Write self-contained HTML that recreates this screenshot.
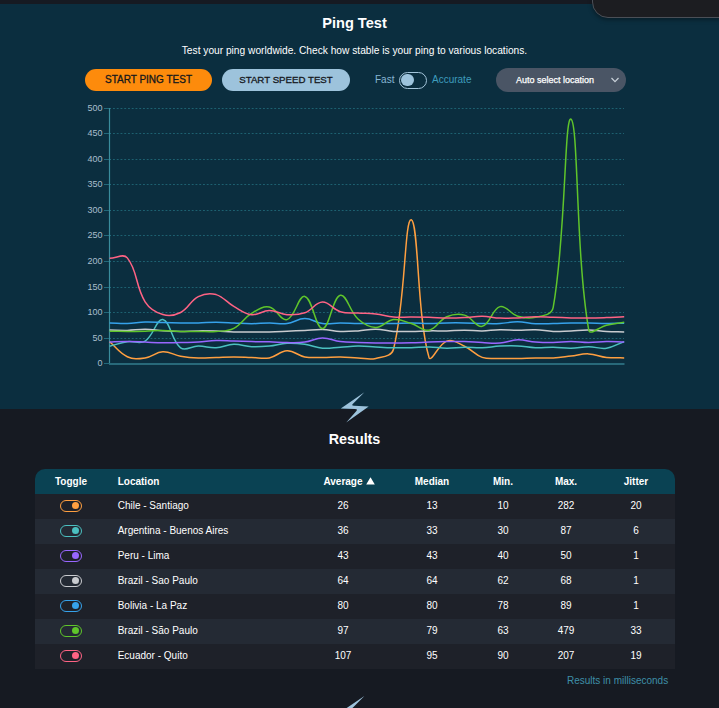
<!DOCTYPE html>
<html><head><meta charset="utf-8">
<style>
*{margin:0;padding:0;box-sizing:border-box}
html,body{width:719px;height:708px;overflow:hidden;background:#161a22;font-family:"Liberation Sans",sans-serif;color:#fff}
.abs{position:absolute}
#top{position:absolute;left:0;top:0;width:719px;height:4px;background:#161a22}
#hero{position:absolute;left:0;top:4px;width:719px;height:405px;background:#0b2e3f}
#corner{position:absolute;left:592px;top:-19px;width:160px;height:37px;background:#1c1d21;border:1px solid #4a4f57;border-radius:16px;box-shadow:0 2px 4px rgba(0,0,0,0.35)}
.t{position:absolute;white-space:nowrap}
.btn{position:absolute;top:69px;height:22px;border-radius:11px;color:#15181c;font-size:10px;-webkit-text-stroke:0.3px #15181c;text-align:center;line-height:22px}
#tbl{position:absolute;left:35px;top:469px;width:640px}
.hdr{height:25px;background:#0a4253;border-radius:10px 10px 0 0;position:relative}
.row{height:25px;position:relative}
.r0{background:#1e2129}.r1{background:#242a34}
.c{position:absolute;top:-1px;line-height:25px;font-size:10px;white-space:nowrap}
.hdr .c{font-weight:bold;top:-0.3px}
.cc{transform:translateX(-50%)}
.tg{position:absolute;left:24.5px;top:6px;width:22px;height:12px;border-radius:6px;border:1.5px solid}
.tg i{position:absolute;right:2px;top:1.2px;width:7px;height:7px;border-radius:50%}
</style></head><body>
<div id="top"></div>
<div id="hero">
</div>
<div id="corner"></div>
<div class="t" style="left:0;width:709px;top:15.3px;text-align:center;font-size:14.6px;font-weight:bold">Ping Test</div>
<div class="t" style="left:0;width:709px;top:44.7px;text-align:center;font-size:10.2px">Test your ping worldwide. Check how stable is your ping to various locations.</div>
<div class="btn" style="left:85px;width:127px;background:#fd8b0c">START PING TEST</div>
<div class="btn" style="left:222px;width:128px;background:#9dc3dc;font-size:9.7px">START SPEED TEST</div>
<div class="t" style="left:375px;top:74px;font-size:10px;color:#86b6d4">Fast</div>
<div class="abs" style="left:399px;top:72px;width:28px;height:17px;border:1.5px solid #a3c4da;border-radius:9px"><div class="abs" style="left:1px;top:0.7px;width:12.6px;height:12.6px;border-radius:50%;background:#9dc3dc"></div></div>
<div class="t" style="left:432px;top:74px;font-size:10px;color:#3e9cbd">Accurate</div>
<div class="abs" style="left:496px;top:68px;width:130px;height:24px;border-radius:12px;background:#4a5565"></div>
<div class="t" style="left:516px;top:75px;font-size:9px;-webkit-text-stroke:0.25px #fff;color:#fff">Auto select location</div>
<svg class="abs" style="left:609px;top:75px" width="12" height="10" viewBox="0 0 12 10"><path d="M2.5 3 L6 6.7 L9.5 3" fill="none" stroke="#c9d1d9" stroke-width="1.2"/></svg>
<svg width="719" height="420" viewBox="0 0 719 420" style="position:absolute;left:0;top:0">
<line x1="113" y1="338.5" x2="624" y2="338.5" stroke="#1d6070" stroke-width="1" stroke-dasharray="1.9 1.85"/>
<line x1="113" y1="312.5" x2="624" y2="312.5" stroke="#1d6070" stroke-width="1" stroke-dasharray="1.9 1.85"/>
<line x1="113" y1="287.5" x2="624" y2="287.5" stroke="#1d6070" stroke-width="1" stroke-dasharray="1.9 1.85"/>
<line x1="113" y1="261.5" x2="624" y2="261.5" stroke="#1d6070" stroke-width="1" stroke-dasharray="1.9 1.85"/>
<line x1="113" y1="235.5" x2="624" y2="235.5" stroke="#1d6070" stroke-width="1" stroke-dasharray="1.9 1.85"/>
<line x1="113" y1="210.5" x2="624" y2="210.5" stroke="#1d6070" stroke-width="1" stroke-dasharray="1.9 1.85"/>
<line x1="113" y1="184.5" x2="624" y2="184.5" stroke="#1d6070" stroke-width="1" stroke-dasharray="1.9 1.85"/>
<line x1="113" y1="159.5" x2="624" y2="159.5" stroke="#1d6070" stroke-width="1" stroke-dasharray="1.9 1.85"/>
<line x1="113" y1="133.5" x2="624" y2="133.5" stroke="#1d6070" stroke-width="1" stroke-dasharray="1.9 1.85"/>
<line x1="113" y1="108.5" x2="624" y2="108.5" stroke="#1d6070" stroke-width="1" stroke-dasharray="1.9 1.85"/>
<line x1="104" y1="363.5" x2="111" y2="363.5" stroke="#22687a" stroke-width="1"/>
<text x="102.5" y="365.7" text-anchor="end" font-size="9" fill="#a9bfcc">0</text>
<line x1="104" y1="338.5" x2="111" y2="338.5" stroke="#22687a" stroke-width="1"/>
<text x="102.5" y="340.7" text-anchor="end" font-size="9" fill="#a9bfcc">50</text>
<line x1="104" y1="312.5" x2="111" y2="312.5" stroke="#22687a" stroke-width="1"/>
<text x="102.5" y="314.7" text-anchor="end" font-size="9" fill="#a9bfcc">100</text>
<line x1="104" y1="287.5" x2="111" y2="287.5" stroke="#22687a" stroke-width="1"/>
<text x="102.5" y="289.7" text-anchor="end" font-size="9" fill="#a9bfcc">150</text>
<line x1="104" y1="261.5" x2="111" y2="261.5" stroke="#22687a" stroke-width="1"/>
<text x="102.5" y="263.7" text-anchor="end" font-size="9" fill="#a9bfcc">200</text>
<line x1="104" y1="235.5" x2="111" y2="235.5" stroke="#22687a" stroke-width="1"/>
<text x="102.5" y="237.7" text-anchor="end" font-size="9" fill="#a9bfcc">250</text>
<line x1="104" y1="210.5" x2="111" y2="210.5" stroke="#22687a" stroke-width="1"/>
<text x="102.5" y="212.7" text-anchor="end" font-size="9" fill="#a9bfcc">300</text>
<line x1="104" y1="184.5" x2="111" y2="184.5" stroke="#22687a" stroke-width="1"/>
<text x="102.5" y="186.7" text-anchor="end" font-size="9" fill="#a9bfcc">350</text>
<line x1="104" y1="159.5" x2="111" y2="159.5" stroke="#22687a" stroke-width="1"/>
<text x="102.5" y="161.7" text-anchor="end" font-size="9" fill="#a9bfcc">400</text>
<line x1="104" y1="133.5" x2="111" y2="133.5" stroke="#22687a" stroke-width="1"/>
<text x="102.5" y="135.7" text-anchor="end" font-size="9" fill="#a9bfcc">450</text>
<line x1="104" y1="108.5" x2="111" y2="108.5" stroke="#22687a" stroke-width="1"/>
<text x="102.5" y="110.7" text-anchor="end" font-size="9" fill="#a9bfcc">500</text>
<line x1="109.5" y1="108" x2="109.5" y2="364" stroke="#3a8c9c" stroke-width="1.2"/>
<line x1="109" y1="364" x2="624.5" y2="364" stroke="#28697a" stroke-width="1.8"/>
<path d="M109.6 341.8 C116.7 347.8 119.3 353.1 127.3 356.7 C133.5 359.5 138.2 358.9 145.1 357.9 C152.4 356.9 155.6 352.1 162.8 351.8 C169.8 351.4 173.4 355.0 180.6 356.2 C187.6 357.4 191.2 357.7 198.3 357.9 C205.4 358.1 209.0 357.6 216.1 357.4 C223.2 357.2 226.7 356.9 233.8 356.9 C240.9 356.9 244.5 357.2 251.6 357.4 C258.7 357.6 262.5 359.2 269.3 357.9 C276.7 356.5 279.9 351.0 287.0 350.8 C294.1 350.5 297.5 355.5 304.8 356.9 C311.7 358.2 315.4 357.4 322.5 357.4 C329.6 357.4 333.2 356.8 340.3 356.9 C347.4 357.0 350.9 357.6 358.0 357.9 C365.1 358.2 369.1 360.0 375.8 358.4 C383.3 356.6 391.6 356.6 393.5 349.2 C405.8 301.1 404.4 218.1 411.3 219.7 C418.6 221.4 416.9 316.0 429.0 357.4 C431.1 363.5 438.7 343.6 446.8 341.1 C452.9 339.1 457.9 343.1 464.5 346.2 C472.0 349.6 474.6 354.7 482.2 357.4 C488.7 359.6 492.9 358.2 500.0 358.4 C507.1 358.6 510.6 358.5 517.7 358.4 C524.8 358.3 528.4 358.0 535.5 357.9 C542.6 357.8 546.1 358.3 553.2 357.9 C560.3 357.5 563.9 356.8 571.0 356.0 C578.1 355.2 581.7 353.6 588.7 353.9 C595.9 354.2 599.3 356.6 606.5 357.4 C613.5 358.2 617.1 357.7 624.2 357.9" fill="none" stroke="#ff9f40" stroke-width="1.5" stroke-linejoin="round"/>
<path d="M109.6 346.2 C116.7 344.4 120.1 342.8 127.3 341.7 C134.3 340.7 139.6 344.5 145.1 341.1 C153.8 335.7 156.4 318.4 162.8 319.6 C170.6 321.1 171.3 341.0 180.6 347.8 C185.5 351.5 191.2 346.1 198.3 346.1 C205.4 346.0 209.0 348.1 216.1 347.7 C223.2 347.4 226.7 344.5 233.8 344.3 C240.9 344.1 244.4 346.3 251.6 346.7 C258.6 347.0 262.2 346.7 269.3 346.1 C276.4 345.4 279.9 343.6 287.0 343.3 C294.1 342.9 297.8 343.3 304.8 344.3 C312.0 345.3 315.4 347.6 322.5 348.2 C329.6 348.8 333.2 347.6 340.3 347.2 C347.4 346.8 350.9 346.1 358.0 346.1 C365.1 346.0 368.7 346.6 375.8 346.9 C382.9 347.3 386.4 347.6 393.5 347.7 C400.6 347.9 404.2 347.9 411.3 347.7 C418.4 347.5 421.9 346.8 429.0 346.9 C436.1 347.0 439.7 348.1 446.8 348.2 C453.8 348.3 457.4 347.3 464.5 347.2 C471.6 347.1 475.2 348.0 482.2 347.7 C489.4 347.5 492.9 346.4 500.0 346.1 C507.1 345.7 510.7 345.5 517.7 345.9 C524.8 346.2 528.4 347.5 535.5 347.7 C542.6 348.0 546.1 347.1 553.2 347.2 C560.3 347.3 563.9 348.3 571.0 348.2 C578.1 348.1 581.6 346.7 588.7 346.7 C595.8 346.7 599.6 349.2 606.5 348.2 C613.8 347.1 617.1 344.2 624.2 341.6" fill="none" stroke="#4bc0c0" stroke-width="1.5" stroke-linejoin="round"/>
<path d="M109.6 342.1 C116.7 341.8 120.2 341.5 127.3 341.5 C134.4 341.5 138.0 341.8 145.1 342.1 C152.2 342.4 155.7 342.8 162.8 342.8 C169.9 342.9 173.5 342.6 180.6 342.5 C187.7 342.3 191.2 342.5 198.3 342.1 C205.4 341.7 209.0 340.8 216.1 340.6 C223.2 340.3 226.7 340.9 233.8 341.1 C240.9 341.3 244.5 341.4 251.6 341.6 C258.7 341.7 262.2 341.6 269.3 341.8 C276.4 342.0 279.9 342.5 287.0 342.6 C294.1 342.7 297.8 343.0 304.8 342.1 C312.0 341.2 315.4 338.1 322.5 338.0 C329.6 337.9 333.1 340.7 340.3 341.6 C347.3 342.4 350.9 342.2 358.0 342.4 C365.1 342.7 368.7 342.8 375.8 342.9 C382.9 343.0 386.4 343.0 393.5 342.9 C400.6 342.9 404.2 343.0 411.3 342.8 C418.4 342.7 421.9 342.3 429.0 342.1 C436.1 341.8 439.7 341.7 446.8 341.6 C453.8 341.5 457.4 341.4 464.5 341.6 C471.6 341.8 475.1 342.3 482.2 342.6 C489.3 342.9 492.9 343.6 500.0 343.1 C507.1 342.5 510.6 340.0 517.7 339.8 C524.8 339.6 528.4 341.5 535.5 342.1 C542.5 342.6 546.1 342.7 553.2 342.6 C560.3 342.5 563.9 341.6 571.0 341.6 C578.1 341.6 581.6 342.6 588.7 342.6 C595.8 342.6 599.4 341.7 606.5 341.6 C613.5 341.5 617.1 341.9 624.2 342.1" fill="none" stroke="#9966ff" stroke-width="1.5" stroke-linejoin="round"/>
<path d="M109.6 330.1 C116.7 330.2 120.3 330.5 127.3 330.4 C134.4 330.2 138.0 329.3 145.1 329.3 C152.2 329.4 155.7 330.2 162.8 330.7 C169.9 331.1 173.5 331.3 180.6 331.4 C187.7 331.4 191.2 330.9 198.3 330.9 C205.4 330.8 209.0 330.9 216.1 331.1 C223.2 331.3 226.7 331.7 233.8 331.9 C240.9 332.0 244.5 331.9 251.6 331.9 C258.7 331.9 262.2 332.0 269.3 331.9 C276.4 331.7 280.0 331.5 287.0 331.2 C294.1 330.9 297.7 330.8 304.8 330.5 C311.9 330.1 315.5 329.3 322.5 329.5 C329.7 329.7 333.2 331.1 340.3 331.4 C347.4 331.6 350.9 331.3 358.0 330.9 C365.1 330.4 368.7 329.1 375.8 329.2 C382.9 329.3 386.4 330.9 393.5 331.4 C400.6 331.8 404.2 331.5 411.3 331.4 C418.4 331.3 421.9 331.0 429.0 330.9 C436.1 330.8 439.7 331.0 446.8 330.9 C453.9 330.7 457.4 330.2 464.5 330.2 C471.6 330.2 475.1 331.0 482.2 330.9 C489.3 330.7 492.9 329.8 500.0 329.7 C507.1 329.6 510.6 330.2 517.7 330.2 C524.8 330.2 528.4 329.5 535.5 329.7 C542.6 329.9 546.1 331.1 553.2 331.4 C560.3 331.6 563.9 331.1 571.0 330.9 C578.1 330.6 581.6 330.0 588.7 330.1 C595.8 330.2 599.3 331.0 606.5 331.4 C613.5 331.7 617.1 331.7 624.2 331.9" fill="none" stroke="#c9cbcf" stroke-width="1.5" stroke-linejoin="round"/>
<path d="M109.6 323.1 C116.7 323.2 120.3 323.7 127.3 323.5 C134.5 323.3 138.0 322.2 145.1 322.0 C152.2 321.8 155.7 322.2 162.8 322.4 C169.9 322.6 173.5 322.8 180.6 323.0 C187.7 323.1 191.2 323.1 198.3 323.0 C205.4 322.8 209.0 322.2 216.1 322.2 C223.2 322.2 226.7 322.6 233.8 323.0 C240.9 323.3 244.5 323.7 251.6 323.7 C258.7 323.7 262.2 323.0 269.3 323.0 C276.4 322.9 280.1 324.4 287.0 323.5 C294.3 322.6 297.7 318.6 304.8 318.6 C311.9 318.6 315.3 322.6 322.5 323.5 C329.5 324.4 333.2 323.0 340.3 323.0 C347.4 323.0 350.9 323.4 358.0 323.5 C365.1 323.6 368.7 323.5 375.8 323.5 C382.9 323.5 386.4 323.6 393.5 323.5 C400.6 323.4 404.2 323.0 411.3 323.0 C418.4 323.0 421.9 323.5 429.0 323.5 C436.1 323.5 439.7 323.1 446.8 323.0 C453.8 322.8 457.4 322.8 464.5 323.0 C471.6 323.1 475.1 323.4 482.2 323.5 C489.3 323.6 492.9 323.9 500.0 323.5 C507.1 323.2 510.6 321.7 517.7 321.8 C524.8 321.8 528.4 323.4 535.5 323.7 C542.6 324.1 546.1 323.7 553.2 323.5 C560.3 323.4 563.9 323.1 571.0 323.0 C578.1 322.8 581.6 322.8 588.7 323.0 C595.8 323.1 599.4 323.5 606.5 323.5 C613.6 323.6 617.1 323.3 624.2 323.2" fill="none" stroke="#36a2eb" stroke-width="1.5" stroke-linejoin="round"/>
<path d="M109.6 331.3 C116.7 331.3 120.2 331.4 127.3 331.4 C134.4 331.4 138.0 331.5 145.1 331.3 C152.2 331.1 155.7 330.3 162.8 330.4 C169.9 330.4 173.5 331.2 180.6 331.4 C187.7 331.6 191.2 331.4 198.3 331.4 C205.4 331.4 209.0 332.0 216.1 331.4 C223.2 330.8 227.6 331.5 233.8 328.3 C241.8 324.2 243.7 318.0 251.6 313.3 C257.9 309.5 262.7 305.9 269.3 307.1 C276.9 308.5 281.0 321.5 287.0 319.6 C295.2 317.2 298.5 294.9 304.8 296.4 C312.7 298.4 315.5 328.8 322.5 328.6 C329.7 328.3 332.3 297.5 340.3 295.3 C346.5 293.6 349.5 311.2 358.0 319.0 C363.7 324.1 368.6 327.4 375.8 327.5 C382.8 327.6 386.2 320.5 393.5 319.6 C400.4 318.9 404.3 321.4 411.3 323.5 C418.5 325.6 422.5 331.5 429.0 330.2 C436.7 328.8 438.9 320.1 446.8 316.7 C453.1 314.0 458.0 313.3 464.5 315.1 C472.2 317.1 476.0 327.8 482.2 326.3 C490.2 324.4 491.9 308.9 500.0 306.6 C506.1 304.9 510.2 313.9 517.7 316.2 C524.4 318.2 528.9 318.9 535.5 317.3 C543.0 315.4 551.8 315.1 553.2 307.4 C566.0 235.9 564.3 115.0 571.0 119.2 C578.5 123.9 575.6 254.0 588.7 329.8 C589.8 336.4 599.3 326.8 606.5 325.2 C613.5 323.7 617.1 323.4 624.2 322.2" fill="none" stroke="#5fc52b" stroke-width="1.5" stroke-linejoin="round"/>
<path d="M109.6 258.2 C116.7 258.1 123.5 253.2 127.3 257.9 C137.7 270.6 135.4 286.3 145.1 301.8 C149.6 308.9 155.0 312.2 162.8 314.5 C169.2 316.5 174.5 315.6 180.6 312.5 C188.7 308.4 190.2 300.8 198.3 296.7 C204.4 293.6 209.6 292.9 216.1 294.6 C223.8 296.8 226.4 302.2 233.8 306.4 C240.6 310.2 244.2 313.8 251.6 314.7 C258.4 315.5 262.2 310.5 269.3 310.5 C276.4 310.5 279.9 314.2 287.0 314.7 C294.1 315.1 298.2 315.1 304.8 312.8 C312.4 310.1 315.3 302.3 322.5 302.1 C329.5 301.9 332.7 309.4 340.3 311.7 C346.9 313.8 350.9 312.7 358.0 313.1 C365.1 313.5 368.7 313.1 375.8 313.9 C382.9 314.7 386.4 316.4 393.5 317.1 C400.6 317.7 404.2 317.0 411.3 317.1 C418.4 317.1 421.9 317.1 429.0 317.3 C436.1 317.5 439.7 318.0 446.8 318.1 C453.8 318.2 457.4 318.0 464.5 317.6 C471.6 317.2 475.2 316.1 482.2 316.2 C489.3 316.3 492.9 317.8 500.0 318.1 C507.1 318.4 510.6 318.1 517.7 317.9 C524.8 317.6 528.4 316.8 535.5 316.7 C542.6 316.6 546.1 317.1 553.2 317.3 C560.3 317.5 563.9 317.7 571.0 317.9 C578.1 318.0 581.6 318.2 588.7 318.1 C595.8 318.1 599.4 317.9 606.5 317.6 C613.6 317.3 617.1 317.0 624.2 316.7" fill="none" stroke="#ff6384" stroke-width="1.5" stroke-linejoin="round"/>
</svg>
<svg class="abs" style="left:0;top:0" width="719" height="708"><path d="M364.4 392.3 L353 403.8 Q351 405.6 354 405.8 L368.7 406.5 L346.2 422.4 L356.2 411.2 Q358.2 409.2 355 409.1 L340.8 408.4 Z" fill="#9dc3dc"/><path transform="translate(0 303.6)" d="M364.4 392.3 L353 403.8 Q351 405.6 354 405.8 L368.7 406.5 L346.2 422.4 L356.2 411.2 Q358.2 409.2 355 409.1 L340.8 408.4 Z" fill="#9dc3dc"/></svg>
<div class="t" style="left:0;width:709px;top:431px;text-align:center;font-size:14.3px;font-weight:bold">Results</div>
<div id="tbl">
<div class="hdr">
 <span class="c cc" style="left:36px">Toggle</span>
 <span class="c" style="left:82.7px">Location</span>
 <span class="c cc" style="left:308px">Average</span><svg class="abs" style="left:330.5px;top:8px" width="9" height="8" viewBox="0 0 9 8"><path d="M4.5 0.3 L8.8 7.6 L0.2 7.6 Z" fill="#fff"/></svg>
 <span class="c cc" style="left:397px">Median</span>
 <span class="c cc" style="left:468px">Min.</span>
 <span class="c cc" style="left:531px">Max.</span>
 <span class="c cc" style="left:601px">Jitter</span>
</div>
<div class="row r0"><span class="tg" style="border-color:#ff9f40"><i style="background:#ff9f40"></i></span>
<span class="c" style="left:82.7px">Chile - Santiago</span>
<span class="c cc" style="left:308px">26</span>
<span class="c cc" style="left:397px">13</span>
<span class="c cc" style="left:468px">10</span>
<span class="c cc" style="left:531px">282</span>
<span class="c cc" style="left:601px">20</span>
</div>
<div class="row r1"><span class="tg" style="border-color:#4bc0c0"><i style="background:#4bc0c0"></i></span>
<span class="c" style="left:82.7px">Argentina - Buenos Aires</span>
<span class="c cc" style="left:308px">36</span>
<span class="c cc" style="left:397px">33</span>
<span class="c cc" style="left:468px">30</span>
<span class="c cc" style="left:531px">87</span>
<span class="c cc" style="left:601px">6</span>
</div>
<div class="row r0"><span class="tg" style="border-color:#9966ff"><i style="background:#9966ff"></i></span>
<span class="c" style="left:82.7px">Peru - Lima</span>
<span class="c cc" style="left:308px">43</span>
<span class="c cc" style="left:397px">43</span>
<span class="c cc" style="left:468px">40</span>
<span class="c cc" style="left:531px">50</span>
<span class="c cc" style="left:601px">1</span>
</div>
<div class="row r1"><span class="tg" style="border-color:#c9cbcf"><i style="background:#c9cbcf"></i></span>
<span class="c" style="left:82.7px">Brazil - Sao Paulo</span>
<span class="c cc" style="left:308px">64</span>
<span class="c cc" style="left:397px">64</span>
<span class="c cc" style="left:468px">62</span>
<span class="c cc" style="left:531px">68</span>
<span class="c cc" style="left:601px">1</span>
</div>
<div class="row r0"><span class="tg" style="border-color:#36a2eb"><i style="background:#36a2eb"></i></span>
<span class="c" style="left:82.7px">Bolivia - La Paz</span>
<span class="c cc" style="left:308px">80</span>
<span class="c cc" style="left:397px">80</span>
<span class="c cc" style="left:468px">78</span>
<span class="c cc" style="left:531px">89</span>
<span class="c cc" style="left:601px">1</span>
</div>
<div class="row r1"><span class="tg" style="border-color:#5fc52b"><i style="background:#5fc52b"></i></span>
<span class="c" style="left:82.7px">Brazil - S&atilde;o Paulo</span>
<span class="c cc" style="left:308px">97</span>
<span class="c cc" style="left:397px">79</span>
<span class="c cc" style="left:468px">63</span>
<span class="c cc" style="left:531px">479</span>
<span class="c cc" style="left:601px">33</span>
</div>
<div class="row r0"><span class="tg" style="border-color:#ff6384"><i style="background:#ff6384"></i></span>
<span class="c" style="left:82.7px">Ecuador - Quito</span>
<span class="c cc" style="left:308px">107</span>
<span class="c cc" style="left:397px">95</span>
<span class="c cc" style="left:468px">90</span>
<span class="c cc" style="left:531px">207</span>
<span class="c cc" style="left:601px">19</span>
</div>
</div>
<div class="t" style="left:567px;top:675px;font-size:10px;color:#3e8fa8">Results in milliseconds</div>
</body></html>
